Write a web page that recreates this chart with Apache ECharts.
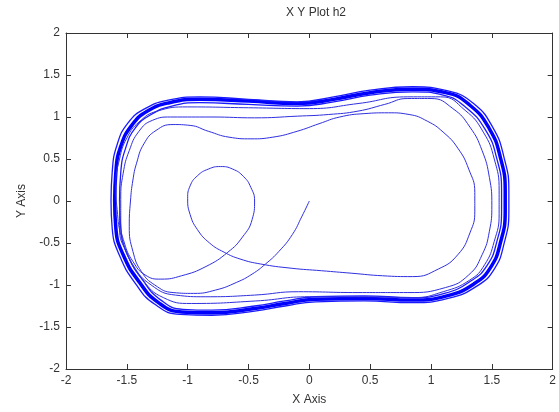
<!DOCTYPE html>
<html><head><meta charset="utf-8">
<script src="https://cdn.jsdelivr.net/npm/echarts@6/dist/echarts.min.js"></script>
<style>html,body{margin:0;padding:0;background:#fff}#c{width:559px;height:412px}</style>
</head><body><div id="c"></div>
<script>
const xTicks = [-2, -1.5, -1, -0.5, 0, 0.5, 1, 1.5, 2];
const yTicks = [-2, -1.5, -1, -0.5, 0, 0.5, 1, 1.5, 2];

// transient: start at origin, first inner revolution and small loop
const startPath = [
[0.00,0.00],[-0.06,-0.18],[-0.14,-0.40],[-0.25,-0.60],[-0.36,-0.75],[-0.47,-0.87],[-0.60,-0.97],[-0.77,-1.06],[-0.95,-1.10],[-1.12,-1.09],[-1.27,-1.00],[-1.38,-0.84],[-1.45,-0.60],[-1.48,-0.30],[-1.47,0.00],[-1.45,0.25],[-1.42,0.45],[-1.36,0.68],[-1.26,0.84],[-1.12,0.91],[-0.98,0.90],[-0.83,0.83],[-0.66,0.76],[-0.48,0.74],[-0.30,0.76],[-0.10,0.83],[0.08,0.92],[0.25,1.00],[0.45,1.04],[0.65,1.05],[0.82,1.03],[0.97,0.95],[1.10,0.82],[1.22,0.63],[1.31,0.38],[1.36,0.10],[1.36,-0.12],[1.32,-0.38],[1.22,-0.64],[1.06,-0.81],[0.85,-0.90],[0.60,-0.89],[0.35,-0.86],[0.10,-0.83],[-0.15,-0.80],[-0.40,-0.75],[-0.57,-0.69],[-0.70,-0.61],[-0.82,-0.50],[-0.92,-0.34],[-0.98,-0.16],[-1.00,0.03],[-0.98,0.18],[-0.92,0.30],[-0.83,0.38],[-0.73,0.41],[-0.63,0.38],[-0.54,0.29],[-0.48,0.16],[-0.45,0.00],[-0.47,-0.22],[-0.55,-0.43],[-0.67,-0.61],[-0.85,-0.78],[-1.05,-0.89],[-1.22,-0.93]
];
const rev1 = [
[-1.35,-0.88],[-1.45,-0.72],[-1.52,-0.50],[-1.55,-0.25],[-1.55,0.02],[-1.53,0.33],[-1.48,0.60],[-1.40,0.83],[-1.29,0.96],[-1.14,1.00],[-0.80,1.00],[-0.45,0.99],[-0.10,1.01],[0.16,1.03],[0.40,1.07],[0.62,1.15],[0.81,1.22],[1.00,1.22],[1.18,1.10],[1.32,0.88],[1.42,0.60],[1.48,0.28],[1.50,-0.05],[1.48,-0.36],[1.42,-0.64],[1.31,-0.88],[1.12,-1.03],[0.81,-1.09],[0.40,-1.09],[-0.09,-1.08],[-0.45,-1.12],[-0.85,-1.14],[-1.10,-1.12],[-1.30,-1.00],[-1.45,-0.76],[-1.54,-0.45],[-1.58,-0.10]
];
const rev2 = [
[-1.59,0.20],[-1.56,0.50],[-1.50,0.75],[-1.40,0.94],[-1.25,1.07],[-1.00,1.12],[-0.50,1.11],[0.00,1.10],[0.40,1.16],[0.81,1.24],[1.08,1.24],[1.28,1.08],[1.43,0.82],[1.52,0.50],[1.56,0.12],[1.56,-0.15],[1.52,-0.48],[1.44,-0.76],[1.32,-0.94],[1.10,-1.08],[0.85,-1.15],[0.45,-1.14],[0.00,-1.14],[-0.44,-1.19],[-0.97,-1.22],[-1.20,-1.15],[-1.37,-0.94],[-1.50,-0.62],[-1.56,-0.32],[-1.56,0.00]
];
// limit cycle band: inner edge, middle, outer edge
const cycleInner = [
[-1.56,0.00],[-1.55,0.34],[-1.51,0.63],[-1.43,0.87],[-1.30,1.03],[-1.13,1.13],[-0.90,1.17],[-0.50,1.15],[-0.10,1.13],[0.20,1.18],[0.50,1.26],[0.85,1.30],[1.10,1.26],[1.29,1.11],[1.45,0.84],[1.54,0.51],[1.58,0.12],[1.58,-0.12],[1.54,-0.49],[1.46,-0.77],[1.33,-0.95],[1.11,-1.10],[0.85,-1.15],[0.45,-1.13],[0.05,-1.14],[-0.20,-1.19],[-0.45,-1.25],[-0.80,-1.30],[-1.04,-1.29],[-1.22,-1.18],[-1.37,-0.94],[-1.50,-0.62],[-1.55,-0.32],[-1.56,0.00]
];
const cycleMid = [
[-1.60,0.00],[-1.59,0.35],[-1.55,0.65],[-1.46,0.90],[-1.33,1.07],[-1.15,1.17],[-0.90,1.21],[-0.50,1.19],[-0.10,1.16],[0.20,1.21],[0.50,1.29],[0.85,1.33],[1.12,1.29],[1.32,1.14],[1.48,0.86],[1.57,0.52],[1.61,0.12],[1.61,-0.12],[1.57,-0.50],[1.49,-0.79],[1.36,-0.98],[1.13,-1.13],[0.85,-1.18],[0.45,-1.16],[0.05,-1.17],[-0.20,-1.22],[-0.45,-1.28],[-0.80,-1.33],[-1.05,-1.32],[-1.24,-1.21],[-1.40,-0.96],[-1.53,-0.64],[-1.59,-0.33],[-1.60,0.00]
];
const cycleOuter = [
[-1.63,0.00],[-1.62,0.35],[-1.58,0.67],[-1.49,0.93],[-1.35,1.10],[-1.16,1.20],[-0.90,1.24],[-0.50,1.21],[-0.10,1.18],[0.20,1.24],[0.50,1.32],[0.85,1.36],[1.14,1.31],[1.35,1.16],[1.51,0.87],[1.60,0.52],[1.64,0.12],[1.64,-0.12],[1.60,-0.51],[1.52,-0.81],[1.38,-1.01],[1.14,-1.16],[0.85,-1.21],[0.45,-1.19],[0.05,-1.20],[-0.20,-1.25],[-0.45,-1.31],[-0.80,-1.36],[-1.06,-1.35],[-1.27,-1.23],[-1.43,-0.98],[-1.56,-0.65],[-1.62,-0.33],[-1.63,0.00]
];

const transient = [].concat(startPath, rev1, rev2);

const font = 'Liberation Sans, Arial, sans-serif';
const axisCommon = {
  type: 'value', min: xTicks[0], max: xTicks[xTicks.length - 1], interval: xTicks[1] - xTicks[0],
  splitLine: { show: false },
  axisLine: { show: true, onZero: false, lineStyle: { color: '#333', width: 1 } },
  axisTick: { show: true, inside: true, length: 5, lineStyle: { color: '#333' } }
};
function curve(data, color, width) {
  return { type: 'line', xAxisIndex: 0, yAxisIndex: 0, data: data, smooth: 0.5, showSymbol: false,
    lineStyle: { color: color, width: width } };
}
const chart = echarts.init(document.getElementById('c'), null, { renderer: 'canvas' });
chart.setOption({
  animation: false,
  backgroundColor: '#fff',
  title: { text: 'X Y Plot h2', left: 311, textAlign: 'center', top: 2,
    textStyle: { fontFamily: font, fontSize: 12, fontWeight: 'normal', color: '#333' } },
  grid: { left: 66, right: 3, top: 33, bottom: 43 },
  xAxis: [
    Object.assign({}, axisCommon, { position: 'bottom', name: 'X Axis', nameLocation: 'middle', nameGap: 25,
      nameTextStyle: { fontFamily: font, fontSize: 12, color: '#333' },
      axisLabel: { margin: 6, fontFamily: font, fontSize: 12, color: '#333' } }),
    Object.assign({}, axisCommon, { position: 'top', axisLabel: { show: false } })
  ],
  yAxis: [
    Object.assign({}, axisCommon, { min: yTicks[0], max: yTicks[yTicks.length - 1], interval: yTicks[1] - yTicks[0],
      position: 'left', name: 'Y Axis', nameLocation: 'middle', nameGap: 38,
      nameTextStyle: { fontFamily: font, fontSize: 12, color: '#333' },
      axisLabel: { margin: 6, fontFamily: font, fontSize: 12, color: '#333' } }),
    Object.assign({}, axisCommon, { min: yTicks[0], max: yTicks[yTicks.length - 1], interval: yTicks[1] - yTicks[0],
      position: 'right', axisLabel: { show: false } })
  ],
  series: [
    curve(cycleMid, '#0000ff', 3.5),
    curve(cycleInner, '#1a1aff', 1.3),
    curve(cycleOuter, '#1a1aff', 1.3),
    curve(transient, '#3030e0', 1)
  ]
});
</script></body></html>
